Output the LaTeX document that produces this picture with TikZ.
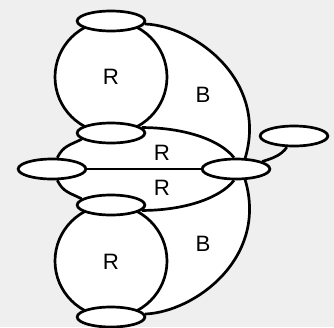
\documentclass[tikz,border=0pt]{standalone}
\usepackage{fontspec}
\setmainfont{Liberation Sans}
\usetikzlibrary{shapes.geometric, calc, backgrounds}
\definecolor{bggrey}{RGB}{239,239,239}
\tikzset{
  vert/.style={ellipse, draw=black, fill=white, minimum width=2.03cm,
    minimum height=0.6cm, inner sep=0pt, line width=2.3pt},
  edge/.style={line width=2.3pt, color=black},
  face/.style={fill=white},
  lbl/.style={font=\fontsize{19}{22}\selectfont}
}
\begin{document}
\begin{tikzpicture}[x=0.03cm, y=-0.03cm]
\useasboundingbox (0,0) rectangle (334,327);
% vertices
\node[vert] (T)  at (111,21)  {};
\node[vert] (M1) at (111,133) {};
\node[vert] (L)  at (52,169)  {};
\node[vert] (Rr) at (236,169) {};
\node[vert] (F)  at (294,136) {};
\node[vert] (M2) at (111,205) {};
\node[vert] (Bt) at (111,317) {};
% face labels
\node[lbl] (f1) at (111,77)  {R};
\node[lbl] (f2) at (203,95)  {B};
\node[lbl] (f3) at (162,153) {R};
\node[lbl] (f4) at (162,188) {R};
\node[lbl] (f5) at (111,262) {R};
\node[lbl] (f6) at (203,244) {B};
\begin{pgfonlayer}{background}
\fill[bggrey] (0,0) rectangle (334,327);
% white faces
\path[face] (T.-5) .. controls +(50,2) and +(23,-78) .. (Rr.50)
  -- (Rr.-50) .. controls +(23,78) and +(50,-2) .. (Bt.5)
  -- (Bt.center) -- (M2.center) -- (M2.168)
  .. controls +(-12,-6) and +(6,12) .. (L.-65)
  -- (L.65) .. controls +(6,-12) and +(-12,6) .. (M1.192)
  -- (M1.center) -- cycle;
\filldraw[edge, face] ($(T)!0.5!(M1)$) circle[radius=1.68cm];
\filldraw[edge, face] ($(M2)!0.5!(Bt)$) circle[radius=1.68cm];
% connectors
\draw[edge] (T.-5) .. controls +(50,2) and +(23,-78) .. (Rr.50);
\draw[edge] (Rr.-50) .. controls +(23,78) and +(50,-2) .. (Bt.5);
\draw[edge] (M1.10) .. controls +(42,0) and +(-14,-18) .. (Rr.100);
\draw[edge] (M2.-10) .. controls +(42,0) and +(-14,18) .. (Rr.-100);
\draw[edge] (L.65) .. controls +(6,-12) and +(-12,6) .. (M1.192);
\draw[edge] (L.-65) .. controls +(6,12) and +(-12,-6) .. (M2.168);
\draw[edge] (L) -- (Rr);
\draw[edge] (F.-123) .. controls +(-5,8) and +(10,-3) .. (Rr.16);
\end{pgfonlayer}
\end{tikzpicture}
\end{document}
